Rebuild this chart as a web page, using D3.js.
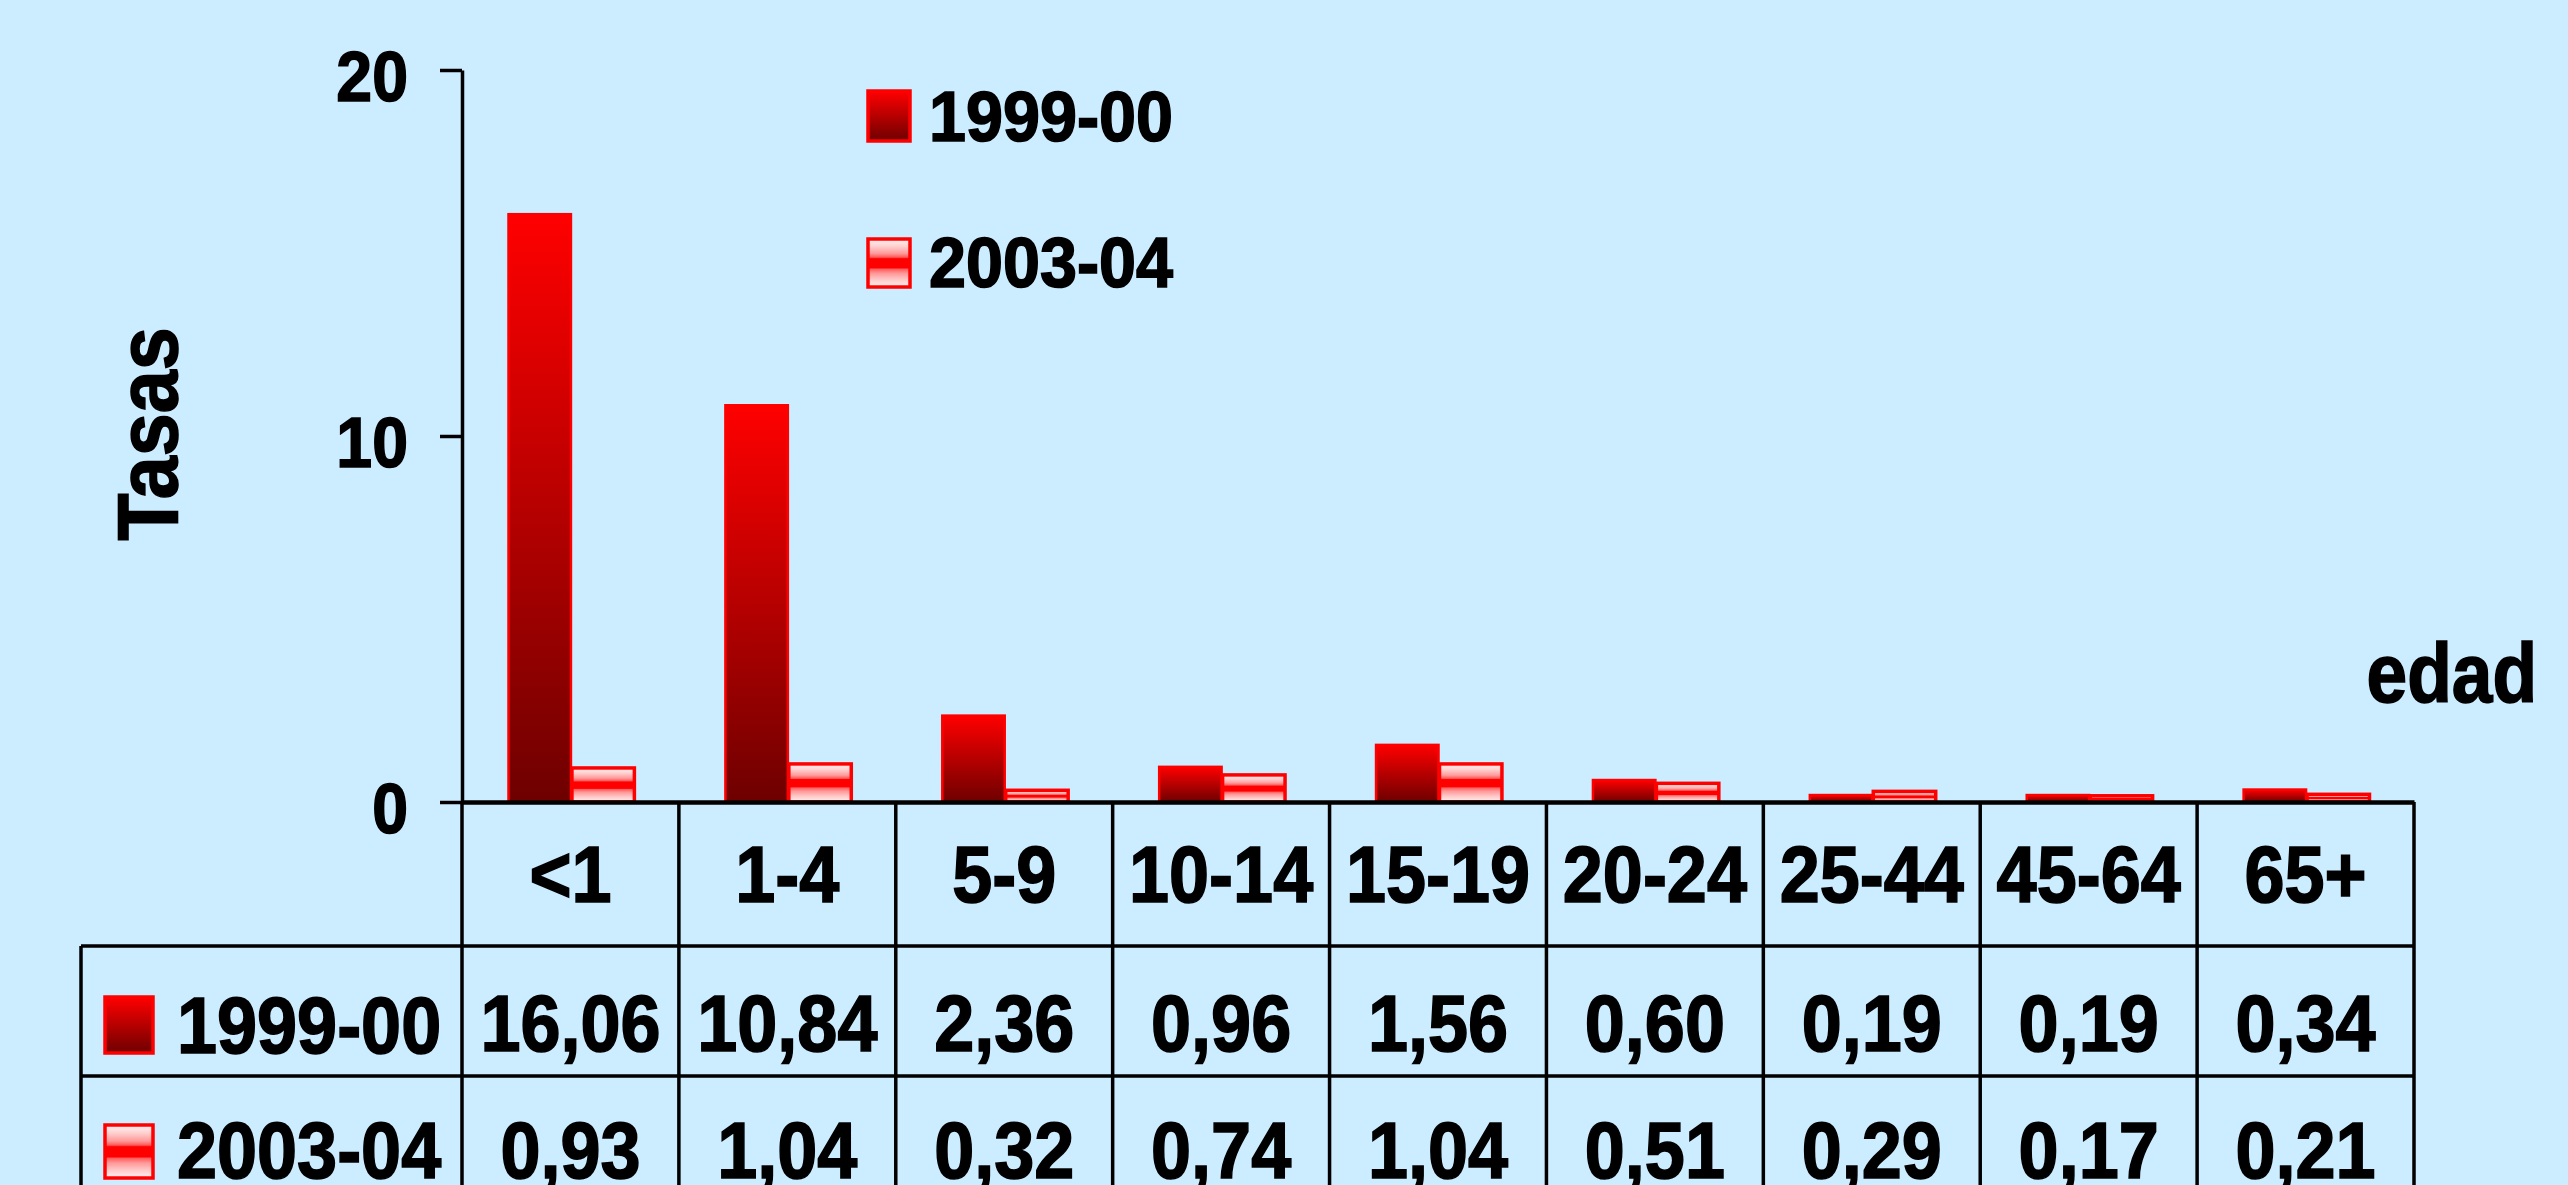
<!DOCTYPE html>
<html>
<head>
<meta charset="utf-8">
<script src="https://cdn.jsdelivr.net/npm/d3@7"></script>
<style>
  html, body { margin: 0; padding: 0; background: #CCECFF; }
  svg { display: block; }
  text { font-family: "Liberation Sans", Arial, sans-serif; font-weight: bold; fill: #000; stroke: #000; stroke-width: 1.6px; }
</style>
</head>
<body>
<script>
const categories = ["<1", "1-4", "5-9", "10-14", "15-19", "20-24", "25-44", "45-64", "65+"];
const seriesNames = ["1999-00", "2003-04"];
const values1999 = [16.06, 10.84, 2.36, 0.96, 1.56, 0.60, 0.19, 0.19, 0.34];
const values2003 = [0.93, 1.04, 0.32, 0.74, 1.04, 0.51, 0.29, 0.17, 0.21];
const yTicks = [0, 10, 20];
const yLabel = "Tasas";
const xLabel = "edad";

(function () {
const W = 2568, H = 1185;
const svg = d3.select("body").append("svg").attr("width", W).attr("height", H);
svg.append("rect").attr("width", W).attr("height", H).attr("fill", "#CCECFF");

const defs = svg.append("defs");
const g1 = defs.append("linearGradient").attr("id", "grad1999").attr("x1", 0).attr("y1", 0).attr("x2", 0).attr("y2", 1);
g1.append("stop").attr("offset", "0%").attr("stop-color", "#FF0000");
g1.append("stop").attr("offset", "100%").attr("stop-color", "#6E0000");
const g2 = defs.append("linearGradient").attr("id", "grad2003").attr("x1", 0).attr("y1", 0).attr("x2", 0).attr("y2", 1);
[[0, "#FFF2F2"], [0.15, "#FFD0D0"], [0.3, "#FF9A9A"], [0.38, "#FF5A5A"], [0.41, "#FF0000"], [0.6, "#FF0000"], [0.63, "#FF6060"], [0.72, "#FF9A9A"], [0.85, "#FFC8C8"], [1, "#FFF2F2"]]
  .forEach(([o, c]) => g2.append("stop").attr("offset", o).attr("stop-color", c));

const fills = ["url(#grad1999)", "url(#grad2003)"];

const pLeft = 462, pRight = 2414, pTop = 70, pBottom = 802;
const x = d3.scaleBand().domain(categories).range([pLeft, pRight]).paddingInner(0.415).paddingOuter(0.2075);
const xs = d3.scaleBand().domain(seriesNames).range([0, x.bandwidth()]);
const y = d3.scaleLinear().domain([0, 20]).range([pBottom, pTop]);

const data = categories.map((c, i) => ({ cat: c, vals: [values1999[i], values2003[i]] }));

// bars
const groups = svg.append("g").selectAll("g").data(data).join("g")
  .attr("transform", d => `translate(${x(d.cat)},0)`);
groups.selectAll("rect").data(d => d.vals.map((v, k) => ({ v, k, s: seriesNames[k] }))).join("rect")
  .attr("x", d => xs(d.s) + 1.5)
  .attr("width", xs.bandwidth() - 1)
  .attr("y", d => y(d.v))
  .attr("height", d => y(0) - y(d.v))
  .attr("fill", d => fills[d.k])
  .attr("stroke", "#FF0000")
  .attr("stroke-width", d => d.k === 0 ? 2.5 : 3.5);

// y axis
const yAxis = svg.append("g").attr("transform", `translate(${pLeft},0)`)
  .call(d3.axisLeft(y).tickValues(yTicks).tickSize(22).tickSizeOuter(0).tickFormat(d3.format("d")));
yAxis.select(".domain").attr("stroke", "#000").attr("stroke-width", 3.5);
yAxis.selectAll(".tick line").attr("stroke", "#000").attr("stroke-width", 3.5);
yAxis.selectAll(".tick text")
  .attr("x", null).attr("dy", null)
  .attr("text-anchor", "end")
  .attr("font-size", 70)
  .attr("fill", "#000")
  .attr("transform", "translate(-54,30) scale(0.92,1)");

// x axis line
const xAxis = svg.append("g").attr("transform", `translate(0,${pBottom})`)
  .call(d3.axisBottom(x).tickSize(0).tickSizeOuter(0).tickFormat(""));
xAxis.select(".domain").attr("stroke", "#000").attr("stroke-width", 4.5);

// table
const pad = (x.step() - x.bandwidth()) / 2;
const bounds = categories.map(c => x(c) - pad).concat([pRight]);
const tableLeft = 81, row1 = 946, row2 = 1076, row3 = 1207;
const lineG = svg.append("g").attr("stroke", "#000").attr("stroke-width", 3.5);
bounds.forEach(b => lineG.append("line").attr("x1", b).attr("x2", b).attr("y1", pBottom).attr("y2", H + 10));
lineG.append("line").attr("x1", tableLeft).attr("x2", tableLeft).attr("y1", row1).attr("y2", H + 10);
[row1, row2, row3].forEach(r => lineG.append("line").attr("x1", tableLeft).attr("x2", pRight).attr("y1", r).attr("y2", r));

const sx = 0.9;
function ctext(parent, tx, ty, str, size, anchor, scale) {
  return parent.append("text")
    .attr("transform", `translate(${tx},${ty}) scale(${scale},1)`)
    .attr("text-anchor", anchor)
    .attr("font-size", size)
    .text(str);
}

const tg = svg.append("g");
categories.forEach(c => ctext(tg, x(c) + x.bandwidth() / 2, 902, c, 80, "middle", sx));
const fmt = v => v.toFixed(2).replace(".", ",");
values1999.forEach((v, i) => ctext(tg, x(categories[i]) + x.bandwidth() / 2, 1051, fmt(v), 80, "middle", sx));
values2003.forEach((v, i) => ctext(tg, x(categories[i]) + x.bandwidth() / 2, 1178, fmt(v), 80, "middle", sx));

// row headers
[[0, 997, 1053], [1, 1125, 1178]].forEach(([k, sy, by]) => {
  tg.append("rect").attr("x", 105).attr("y", sy).attr("width", 48).attr("height", by - sy)
    .attr("fill", fills[k]).attr("stroke", "#FF0000").attr("stroke-width", 3.5);
  ctext(tg, 177, by, seriesNames[k], 80, "start", sx);
});

// legend
[[0, 91, 141], [1, 239, 287]].forEach(([k, sy, by]) => {
  tg.append("rect").attr("x", 868).attr("y", sy).attr("width", 42).attr("height", by - sy)
    .attr("fill", fills[k]).attr("stroke", "#FF0000").attr("stroke-width", 3.5);
  ctext(tg, 929, by, seriesNames[k], 70, "start", 0.95);
});

// axis titles
tg.append("text")
  .attr("transform", `translate(177,434) rotate(-90) scale(0.9,1)`)
  .attr("text-anchor", "middle").attr("font-size", 86).text(yLabel);
ctext(tg, 2537, 702, xLabel, 83, "end", 0.88);
})();
</script>
</body>
</html>
